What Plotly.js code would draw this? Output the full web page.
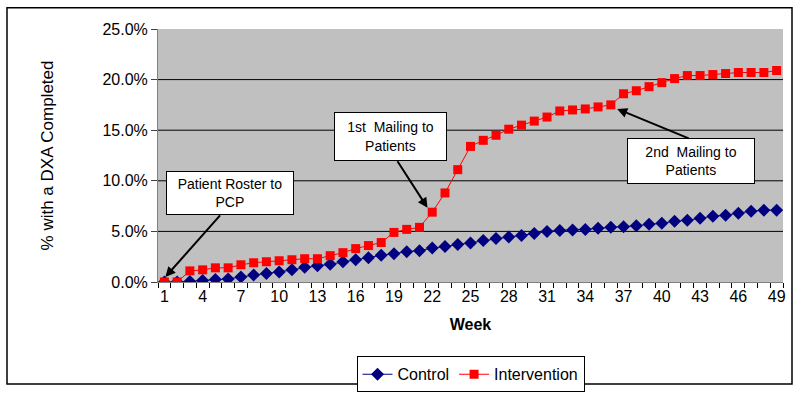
<!DOCTYPE html>
<html>
<head>
<meta charset="utf-8">
<script src="https://cdn.plot.ly/plotly-3.0.1.min.js"></script>
<style>html,body{margin:0;padding:0;background:#fff;}#chart{width:800px;height:405px;}</style>
</head>
<body>
<div id="chart"></div>
<script>
var weeks = [1,2,3,4,5,6,7,8,9,10,11,12,13,14,15,16,17,18,19,20,21,22,23,24,25,26,27,28,29,30,31,32,33,34,35,36,37,38,39,40,41,42,43,44,45,46,47,48,49];
var controlPct = [0.0,0.0,0.05,0.15,0.25,0.3,0.5,0.7,0.85,1.0,1.2,1.45,1.6,1.75,2.0,2.2,2.4,2.65,2.8,3.0,3.1,3.35,3.5,3.7,3.85,4.1,4.3,4.45,4.6,4.8,5.0,5.1,5.15,5.2,5.3,5.4,5.45,5.55,5.7,5.8,6.0,6.1,6.3,6.5,6.6,6.8,7.0,7.1,7.1];
var interventionPct = [0.0,0.0,1.1,1.2,1.4,1.4,1.7,1.9,2.0,2.1,2.2,2.3,2.3,2.6,2.9,3.3,3.6,3.9,4.9,5.2,5.4,6.9,8.8,11.1,13.4,14.0,14.5,15.1,15.5,15.9,16.3,16.9,17.0,17.1,17.3,17.5,18.6,18.9,19.3,19.7,20.1,20.4,20.4,20.5,20.6,20.7,20.7,20.7,20.9];
var xTickVals = [1,4,7,10,13,16,19,22,25,28,31,34,37,40,43,46,49];
var yTickVals = [0,5,10,15,20,25];
var gridVals = [5,10,15,20];
var seriesNames = ["Control", "Intervention"];

var font = "Liberation Sans, Arial, sans-serif";

var traces = [
  {x: weeks, y: controlPct, name: seriesNames[0], type: "scatter", mode: "lines+markers",
   line: {color: "#000080", width: 1}, marker: {symbol: "diamond", size: 10, color: "#000080"}},
  {x: weeks, y: interventionPct, name: seriesNames[1], type: "scatter", mode: "lines+markers",
   line: {color: "#ff0000", width: 1}, marker: {symbol: "square", size: 9, color: "#ff0000"}}
];

var shapes = gridVals.map(function(v){
  return {type: "line", xref: "paper", yref: "y", x0: 0, x1: 1, y0: v, y1: v, layer: "below",
          line: {color: "#000", width: 1}};
});
shapes.push({type: "rect", xref: "paper", yref: "paper", x0: -0.2416, x1: 1.0144, y0: -0.403, y1: 1.0837,
             line: {color: "#000", width: 1.5}, fillcolor: "rgba(0,0,0,0)", layer: "below"});

var boxStyle = {bgcolor: "#fff", bordercolor: "#000", borderwidth: 1, showarrow: false,
                font: {family: font, size: 14, color: "#000"}, xref: "x", yref: "y"};
function box(o){ var r = {}; for (var k in boxStyle) r[k] = boxStyle[k]; for (var k2 in o) r[k2] = o[k2]; return r; }
function arrow(x, y, ax, ay){
  return {x: x, y: y, ax: ax, ay: ay, xref: "x", yref: "y", text: "", showarrow: true,
          arrowhead: 2, arrowsize: 1, arrowwidth: 2, arrowcolor: "#000"};
}

var annotations = [
  box({x: 6.17, y: 8.76, text: "Patient Roster to<br>PCP", width: 124, height: 40}),
  box({x: 18.75, y: 14.4, text: "1st  Mailing to<br>Patients", width: 109, height: 45}),
  box({x: 42.3, y: 12.0, text: "2nd  Mailing to<br>Patients", width: 124, height: 42}),
  arrow(1.08, 0.5, 56, -63),
  arrow(21.63, 7.33, -31, -48),
  arrow(36.5, 17.1, 73, 30)
];

var layout = {
  width: 800, height: 405,
  margin: {l: 158, r: 17, t: 29, b: 113, pad: 0},
  paper_bgcolor: "#fff",
  plot_bgcolor: "#c0c0c0",
  font: {family: font, size: 15, color: "#000"},
  showlegend: true,
  legend: {orientation: "h", x: 0.5, xanchor: "center", y: -0.365, yanchor: "middle",
           bgcolor: "#fff", bordercolor: "#000", borderwidth: 1,
           font: {family: font, size: 16, color: "#000"}, itemwidth: 30},
  xaxis: {range: [0.5, 49.5], tickvals: xTickVals, ticktext: xTickVals.map(String),
          ticks: "", showgrid: false, zeroline: false, showline: true, linecolor: "#808080", linewidth: 1,
          tickfont: {family: font, size: 16, color: "#000"},
          minor: {tick0: 0.5, dtick: 1, ticks: "outside", ticklen: 5, tickcolor: "#000", showgrid: false},
          title: {text: "<b>Week</b>", font: {family: font, size: 16, color: "#000"}, standoff: 14},
          automargin: false, fixedrange: true},
  yaxis: {range: [0, 25], tickvals: yTickVals, ticktext: yTickVals.map(function(v){return v.toFixed(1) + "%";}),
          ticks: "outside", ticklen: 6, tickcolor: "#404040", showgrid: false, zeroline: false,
          showline: true, linecolor: "#808080", linewidth: 1,
          tickfont: {family: font, size: 16, color: "#000"},
          title: {text: "% with a DXA Completed", font: {family: font, size: 17, color: "#000"}, standoff: 44},
          automargin: false, fixedrange: true},
  shapes: shapes,
  annotations: annotations
};

Plotly.newPlot("chart", traces, layout, {staticPlot: true, displayModeBar: false});
</script>
</body>
</html>
